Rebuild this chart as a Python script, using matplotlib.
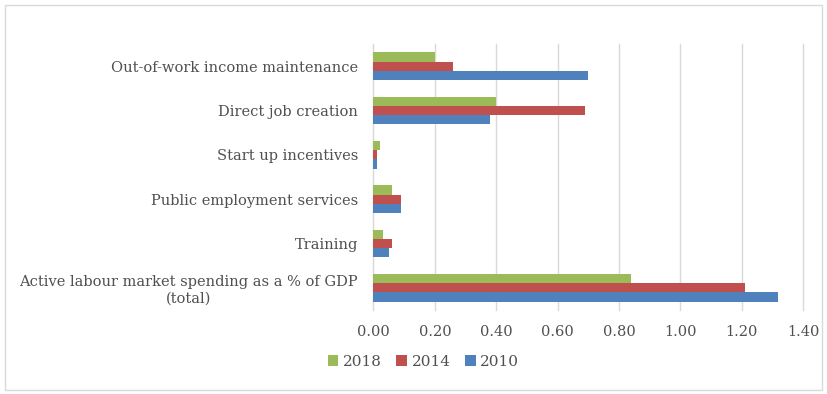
import matplotlib

matplotlib.use("Agg")
import matplotlib.pyplot as plt  # noqa: E402
import numpy as np  # noqa: E402
from matplotlib.patches import Rectangle  # noqa: E402

# labour market spending by programme type, % of GDP
categories = [
    "Out-of-work income maintenance",
    "Direct job creation",
    "Start up incentives",
    "Public employment services",
    "Training",
    "Active labour market spending as a % of GDP\n(total)",
]
years = ["2018", "2014", "2010"]
spend_2018 = [0.20, 0.40, 0.02, 0.06, 0.03, 0.84]
spend_2014 = [0.26, 0.69, 0.01, 0.09, 0.06, 1.21]
spend_2010 = [0.70, 0.38, 0.01, 0.09, 0.05, 1.32]
colors = ["#9BBB59", "#C0504D", "#4F81BD"]
xticks = [0.0, 0.2, 0.4, 0.6, 0.8, 1.0, 1.2, 1.4]

plt.rcParams["font.family"] = ["DejaVu Serif"]
TEXT = "#505050"
FS = 10.5

fig = plt.figure(figsize=(8.27, 3.94), dpi=100)
ax = fig.add_axes([0.4516, 0.2132, 0.5194, 0.6751])

y = np.arange(len(categories))[::-1]
h = 0.21
for i, (vals, col, lab) in enumerate(zip([spend_2018, spend_2014, spend_2010], colors, years)):
    ax.barh(y + (1 - i) * h, vals, height=h, color=col, label=lab, zorder=3)

ax.set_xlim(0, 1.4)
ax.set_ylim(-0.5, len(categories) - 0.5)
ax.set_xticks(xticks)
ax.set_xticklabels([f"{t:.2f}" for t in xticks], fontsize=FS, color=TEXT)
ax.set_yticks(y)
ax.set_yticklabels(categories, fontsize=FS, color=TEXT, multialignment="center")
ax.tick_params(axis="x", length=0, pad=11)
ax.tick_params(axis="y", length=0, pad=11)
ax.grid(axis="x", color="#D9D9D9", linewidth=1, zorder=0)
for gl in ax.xaxis.get_gridlines():
    gl.set_clip_on(False)
for s in ["top", "right", "bottom"]:
    ax.spines[s].set_visible(False)
ax.spines["left"].set_color("#D9D9D9")

handles, labels = ax.get_legend_handles_labels()
fig.legend(handles, labels, loc="center", bbox_to_anchor=(0.512, 0.081), ncol=3,
           frameon=False, fontsize=11, labelcolor=TEXT, handlelength=0.7,
           handleheight=0.7, handletextpad=0.3, columnspacing=0.95)

# thin frame around the whole chart
fig.patches.append(Rectangle((0.006, 0.01), 0.988, 0.978, transform=fig.transFigure,
                             fill=False, edgecolor="#D9D9D9", linewidth=1))

fig.savefig("out.png", dpi=100)
